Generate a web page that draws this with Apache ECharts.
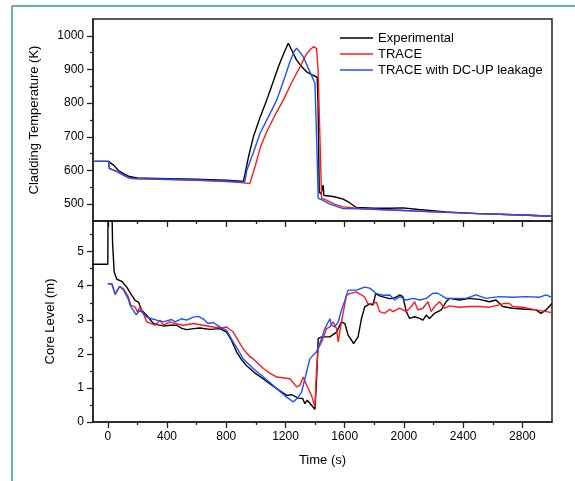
<!DOCTYPE html>
<html><head><meta charset="utf-8">
<script src="https://cdn.jsdelivr.net/npm/echarts@6/dist/echarts.min.js"></script>
<style>html,body{margin:0;padding:0;background:#fff}#c{width:575px;height:481px}</style>
</head><body><div id="c"></div>
<script>
// ---- Data ----
var seriesNames = ['Experimental', 'TRACE', 'TRACE with DC-UP leakage'];
var xMajorTicks = [0, 400, 800, 1200, 1600, 2000, 2400, 2800];
var xMinorTicks = [200, 600, 1000, 1400, 1800, 2200, 2600];
var tempMajorTicks = [500, 600, 700, 800, 900, 1000];
var tempMinorTicks = [550, 650, 750, 850, 950];
var levelMajorTicks = [0, 1, 2, 3, 4, 5];
var levelMinorTicks = [0.5, 1.5, 2.5, 3.5, 4.5, 5.5];

// Cladding temperature (K)
var expTempTime = [-100,5,20,39,72,106,140,173,200,400,600,800,900,916,950,983,1030,1073,1110,1152,1190,1219,1245,1275,1310,1343,1380,1414,1420,1428,1440,1450,1455,1459,1480,1530,1589,1630,1679,1800,1900,1993,2100,2285,2500,2800,3000];
var expTempVal  = [627,627,622,616,600,591,583,580,578,576,574,571,568,568,640,700,760,809,855,908,950,978,955,928,908,893,884,877,800,536,530,550,556,526,525,522,515,505,490,488,488,489,484,477,472,468,464];
var traceTempTime = [-100,5,10,39,66,106,133,160,200,400,600,800,900,959,1000,1030,1073,1130,1185,1240,1298,1340,1365,1390,1399,1410,1420,1432,1444,1477,1530,1589,1701,1836,2000,2200,2500,2800,3000];
var traceTempVal  = [627,627,606,601,596,586,580,576,575,573,571,567,564,561,620,668,715,765,809,860,908,945,958,968,970,962,900,710,517,512,500,492,487,484,481,477,472,468,464];
var leakTempTime = [-100,5,10,39,66,106,133,160,200,400,600,800,900,925,939,980,1028,1085,1141,1190,1230,1260,1275,1300,1320,1365,1399,1410,1421,1450,1500,1589,1700,1836,2000,2200,2500,2800,3000];
var leakTempVal  = [627,627,607,601,596,586,580,577,576,574,572,569,566,566,601,650,710,760,809,870,923,955,963,950,938,893,859,700,517,512,500,487,486,484,481,477,472,468,464];

// Core level (m)
var expLevelTime = [-100,0,2,25,32,43,61,94,128,162,184,195,207,229,263,308,340,375,420,465,500,532,580,622,690,757,802,835,869,900,936,990,1049,1100,1141,1208,1242,1286,1316,1331,1347,1376,1399,1410,1421,1444,1500,1545,1578,1601,1623,1646,1660,1668,1690,1713,1735,1769,1791,1809,1836,1870,1904,1926,1949,1971,1993,2016,2038,2072,2106,2128,2151,2173,2207,2252,2285,2308,2375,2442,2510,2577,2622,2667,2734,2824,2892,2925,2959,3000];
var expLevelVal  = [4.63,4.63,7,7,5.28,4.40,4.19,4.13,3.96,3.72,3.57,3.60,3.52,3.28,3.13,2.89,2.85,2.82,2.84,2.84,2.75,2.71,2.74,2.76,2.72,2.74,2.64,2.40,2.06,1.85,1.66,1.45,1.27,1.10,0.98,0.78,0.80,0.70,0.69,0.54,0.64,0.49,0.37,1.27,2.45,2.50,2.50,2.64,2.94,2.89,2.55,2.40,2.30,2.35,2.50,3.03,3.38,3.47,3.43,3.77,3.70,3.66,3.62,3.63,3.67,3.73,3.68,3.24,3.04,3.09,3.04,2.99,3.14,3.04,3.19,3.29,3.53,3.63,3.58,3.63,3.60,3.53,3.58,3.39,3.34,3.31,3.29,3.19,3.29,3.48];
var traceLevelTime = [0,27,50,79,106,139,155,184,200,218,240,263,296,319,353,375,420,454,510,577,644,712,768,802,847,914,961,981,1051,1100,1141,1230,1275,1298,1320,1343,1376,1399,1410,1421,1444,1477,1500,1522,1545,1556,1578,1612,1634,1679,1735,1757,1791,1814,1836,1870,1904,1926,1971,2016,2050,2072,2094,2128,2162,2184,2207,2240,2274,2308,2375,2442,2510,2577,2644,2678,2712,2734,2801,2892,3000];
var traceLevelVal  = [4.06,4.06,3.74,3.98,3.91,3.67,3.43,3.38,3.23,3.38,3.18,2.94,2.89,2.84,2.99,2.84,2.94,2.89,2.84,2.89,2.84,2.79,2.76,2.79,2.64,2.15,1.91,1.86,1.57,1.42,1.32,1.27,1.03,1.08,1.32,1.08,0.78,0.44,1.57,2.15,2.35,2.74,2.79,2.94,2.74,2.35,2.94,3.72,3.77,3.82,3.67,3.47,3.47,3.52,3.24,3.19,3.31,3.24,3.34,3.24,3.39,3.53,3.29,3.34,3.53,3.24,3.39,3.53,3.34,3.41,3.37,3.39,3.39,3.37,3.44,3.48,3.48,3.39,3.37,3.29,3.21];
var leakLevelTime = [0,27,50,79,106,139,151,191,218,263,296,330,375,431,454,498,532,577,611,644,678,712,757,802,847,914,961,981,1051,1141,1208,1253,1286,1309,1331,1365,1410,1444,1466,1500,1511,1533,1556,1578,1601,1623,1679,1735,1769,1814,1859,1904,1937,1971,2016,2061,2106,2151,2195,2229,2285,2353,2420,2487,2521,2555,2644,2734,2824,2914,2959,3000];
var leakLevelVal  = [4.06,4.06,3.76,3.97,3.88,3.60,3.42,3.15,3.28,3.08,3.03,2.99,2.94,3.01,2.94,3.03,2.99,3.08,3.10,3.03,2.89,2.92,2.79,2.69,2.35,1.86,1.66,1.57,1.32,0.98,0.73,0.59,0.73,0.88,1.27,1.86,2.06,2.45,2.74,3.03,2.84,2.79,2.94,3.28,3.57,3.87,3.87,3.96,3.93,3.77,3.72,3.73,3.58,3.68,3.58,3.63,3.58,3.63,3.78,3.78,3.63,3.63,3.63,3.73,3.68,3.63,3.68,3.66,3.68,3.66,3.73,3.66];

// ---- Build chart ----
function zip(a, b) { return a.map(function (v, i) { return [v, b[i]]; }); }
function plain(v) { return String(v); }
var colors = ['#000000', '#ff1a1a', '#1f4fff'];
var FONT = 'Liberation Sans, Arial, sans-serif';
var axisCol = '#222';
var GL = 93, GW = 459;

function xAxisMajor(grid, withLabel) {
  return {
    type: 'value', gridIndex: grid, min: -100, max: 3000, position: 'bottom',
    axisLine: { show: true, onZero: false, lineStyle: { color: axisCol, width: 1.5 } },
    axisTick: { show: true, length: 6, customValues: xMajorTicks, lineStyle: { color: axisCol, width: 1.3 } },
    axisLabel: { show: withLabel, customValues: xMajorTicks, formatter: plain, margin: 9, color: '#000', fontSize: 12, fontFamily: FONT },
    splitLine: { show: false },
    name: withLabel ? 'Time (s)' : '', nameLocation: 'middle', nameGap: 32,
    nameTextStyle: { color: '#000', fontSize: 13, fontFamily: FONT }
  };
}
function xAxisMinor(grid) {
  return {
    type: 'value', gridIndex: grid, min: -100, max: 3000, position: 'bottom',
    axisLine: { show: false, onZero: false },
    axisTick: { show: true, length: 3, customValues: xMinorTicks, lineStyle: { color: axisCol, width: 1.3 } },
    axisLabel: { show: false }, splitLine: { show: false }
  };
}
function yAxisMajor(grid, min, max, ticks, name, gap) {
  return {
    type: 'value', gridIndex: grid, min: min, max: max, position: 'left',
    axisLine: { show: true, onZero: false, lineStyle: { color: axisCol, width: 1.5 } },
    axisTick: { show: true, length: 6, customValues: ticks, lineStyle: { color: axisCol, width: 1.3 } },
    axisLabel: { show: true, customValues: ticks, formatter: plain, margin: 9, color: '#000', fontSize: 12, fontFamily: FONT },
    splitLine: { show: false },
    name: name, nameLocation: 'middle', nameGap: gap, nameRotate: 90,
    nameTextStyle: { color: '#000', fontSize: 13, fontFamily: FONT }
  };
}
function yAxisMinor(grid, min, max, ticks) {
  return {
    type: 'value', gridIndex: grid, min: min, max: max, position: 'left',
    axisLine: { show: false, onZero: false },
    axisTick: { show: true, length: 3, customValues: ticks, lineStyle: { color: axisCol, width: 1.3 } },
    axisLabel: { show: false }, splitLine: { show: false }
  };
}
function line(name, data, xi, yi, c) {
  return {
    type: 'line', name: name, data: data, xAxisIndex: xi, yAxisIndex: yi,
    showSymbol: false, symbol: 'none', clip: true, animation: false,
    lineStyle: { color: c, width: 1.4 }, itemStyle: { color: c }
  };
}

var chart = echarts.init(document.getElementById('c'), null, { renderer: 'canvas' });
chart.setOption({
  animation: false,
  backgroundColor: '#fff',
  textStyle: { fontFamily: FONT },
  grid: [
    { left: GL, top: 19, width: GW, height: 202, show: true, borderColor: axisCol, borderWidth: 1.5, backgroundColor: 'transparent' },
    { left: GL, top: 221, width: GW, height: 201, show: true, borderColor: axisCol, borderWidth: 1.5, backgroundColor: 'transparent' }
  ],
  xAxis: [xAxisMajor(0, false), xAxisMinor(0), xAxisMajor(1, true), xAxisMinor(1)],
  yAxis: [
    yAxisMajor(0, 450, 1050, tempMajorTicks, 'Cladding Temperature (K)', 52),
    yAxisMinor(0, 450, 1050, tempMinorTicks),
    yAxisMajor(1, 0, 5.9, levelMajorTicks, 'Core Level (m)', 36),
    yAxisMinor(1, 0, 5.9, levelMinorTicks)
  ],
  legend: {
    data: seriesNames, orient: 'vertical', left: 335, top: 25,
    itemWidth: 33, itemHeight: 1.6, itemGap: 0, icon: 'rect',
    textStyle: { color: '#000', fontSize: 13, fontFamily: FONT, lineHeight: 16 },
    selectedMode: false
  },
  graphic: [
    { type: 'line', shape: { x1: 12, y1: 6, x2: 12, y2: 481 }, style: { stroke: '#2f9c8c', lineWidth: 1.5 } },
    { type: 'line', shape: { x1: 12, y1: 6, x2: 575, y2: 6 }, style: { stroke: '#2f9c8c', lineWidth: 1.5 } }
  ],
  series: [
    line(seriesNames[0], zip(expTempTime, expTempVal), 0, 0, colors[0]),
    line(seriesNames[1], zip(traceTempTime, traceTempVal), 0, 0, colors[1]),
    line(seriesNames[2], zip(leakTempTime, leakTempVal), 0, 0, colors[2]),
    line(seriesNames[0], zip(expLevelTime, expLevelVal), 2, 2, colors[0]),
    line(seriesNames[1], zip(traceLevelTime, traceLevelVal), 2, 2, colors[1]),
    line(seriesNames[2], zip(leakLevelTime, leakLevelVal), 2, 2, colors[2])
  ]
});
</script></body></html>
